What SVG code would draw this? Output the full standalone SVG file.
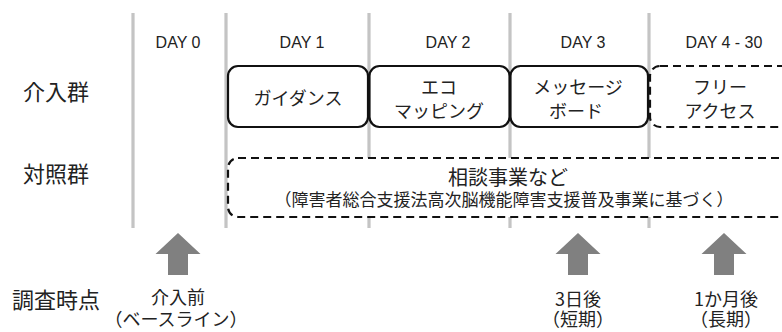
<svg xmlns="http://www.w3.org/2000/svg" width="782" height="332" viewBox="0 0 782 332">
<style>
.grid{stroke:#c4c4c4;stroke-width:3.2;fill:none}
.box{fill:#fff;stroke:#111;stroke-width:2.2}
.dash{fill:#fff;stroke:#111;stroke-width:2.2;stroke-dasharray:8 5}
.day{font-family:"Liberation Sans",Arial,sans-serif;font-size:16px;fill:#222;text-anchor:middle}
.jp{font-family:"Noto Sans CJK JP","Noto Sans",sans-serif;fill:#222;text-anchor:middle}
.row{font-size:22px}
.bx{font-size:18px}
.arrow{fill:#808080}
</style>
<defs>
<path id="arr" d="M0,0 L22.5,21 L10,21 L10,42 L-10,42 L-10,21 L-22.5,21 Z"/>
</defs>
<g id="gridlines">
<line class="grid" x1="133" y1="13" x2="133" y2="228"/>
<line class="grid" x1="226" y1="13" x2="226" y2="228"/>
<line class="grid" x1="369" y1="13" x2="369" y2="228"/>
<line class="grid" x1="510" y1="13" x2="510" y2="228"/>
<line class="grid" x1="649" y1="13" x2="649" y2="228"/>
</g>
<g id="days">
<text class="day" x="178" y="48">DAY 0</text>
<text class="day" x="302" y="48">DAY 1</text>
<text class="day" x="448" y="48">DAY 2</text>
<text class="day" x="583" y="48">DAY 3</text>
<text class="day" x="724" y="48">DAY 4 - 30</text>
</g>
<g id="row-labels">
<text class="jp row" x="56" y="100">介入群</text>
<text class="jp row" x="56" y="182">対照群</text>
<text class="jp row" x="56" y="308">調査時点</text>
</g>
<g id="guidance">
<rect class="box" x="228" y="66" width="140" height="61" rx="10"/>
<text class="jp bx" x="298" y="105">ガイダンス</text>
</g>
<g id="ecomapping">
<rect class="box" x="369.5" y="66" width="140" height="61" rx="10"/>
<text class="jp bx" x="439" y="94">エコ</text>
<text class="jp bx" x="439" y="118">マッピング</text>
</g>
<g id="messageboard">
<rect class="box" x="510.5" y="66" width="137.5" height="61" rx="10"/>
<text class="jp bx" x="578" y="94">メッセージ</text>
<text class="jp bx" x="576" y="118">ボード</text>
</g>
<g id="freeaccess">
<rect class="dash" x="650" y="66" width="160" height="61" rx="10"/>
<text class="jp bx" x="720" y="94">フリー</text>
<text class="jp bx" x="720" y="118">アクセス</text>
</g>
<g id="control">
<rect class="dash" x="228" y="158" width="580" height="59" rx="10"/>
<text class="jp" x="508" y="185" font-size="20">相談事業など</text>
<text class="jp" x="504" y="206" font-size="17">（障害者総合支援法高次脳機能障害支援普及事業に基づく）</text>
</g>
<g id="connectors">
<use href="#arr" class="arrow" x="178" y="233"/>
<use href="#arr" class="arrow" x="578" y="233"/>
<use href="#arr" class="arrow" x="724" y="233"/>
</g>
<g id="baseline-label">
<text class="jp bx" x="178" y="304">介入前</text>
<text class="jp bx" x="176" y="326">（ベースライン）</text>
</g>
<g id="short-label">
<text class="jp bx" x="578" y="306">3日後</text>
<text class="jp bx" x="578" y="326">（短期）</text>
</g>
<g id="long-label">
<text class="jp bx" x="726" y="306">1か月後</text>
<text class="jp bx" x="726" y="326">（長期）</text>
</g>
</svg>
